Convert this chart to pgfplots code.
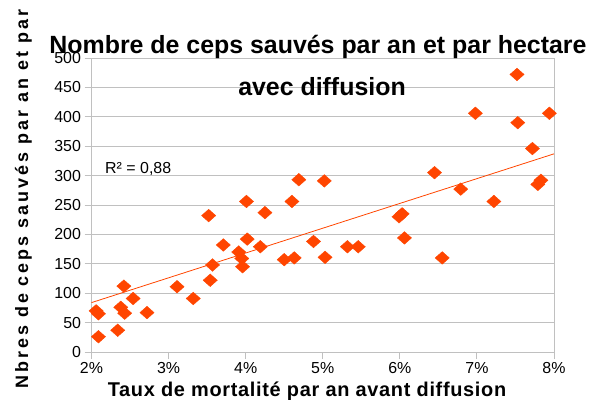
\documentclass[border=0pt]{standalone}
\usepackage{fontspec}
\setmainfont{Liberation Sans}
\newfontfamily\ylfont[LetterSpace=16.8]{Liberation Sans}
\newfontfamily\xlfont[LetterSpace=3.4]{Liberation Sans}
\usepackage{pgfplots}
\pgfplotsset{compat=1.18}
\definecolor{mk}{RGB}{255,69,0}
\definecolor{gr}{RGB}{192,192,192}
\pgfplotstableread{
x y
2.06 70
2.09 65
2.09 26
2.34 37
2.38 76
2.43 66
2.42 112
2.54 91
2.72 67
3.11 111
3.32 91
3.52 232
3.54 122
3.57 148
3.71 182
3.91 170
3.95 159
3.96 145
4.01 256
4.02 192
4.19 179
4.25 237
4.50 157
4.60 256
4.63 160
4.69 293
4.88 188
5.02 291
5.03 161
5.32 179
5.46 179
5.99 230
6.03 235
6.06 194
6.45 305
6.55 160
6.79 277
6.98 406
7.22 256
7.52 472
7.53 390
7.72 346
7.79 285
7.83 292
7.94 406
}\datatable
\begin{document}
\begin{tikzpicture}
\begin{axis}[at={(91.5bp,48bp)}, anchor=south west, scale only axis,
  width=462.5bp, height=294bp,
  xmin=2, xmax=8, ymin=0, ymax=500,
  xtick={2,3,...,8}, ytick={0,50,...,500},
  xticklabel={\pgfmathprintnumber{\tick}\%},
  /pgf/number format/assume math mode=true,
  ymajorgrids, grid style={gr, line width=0.9pt},
  axis line style={gr, line width=0.9pt},
  major tick style={gr, line width=0.9pt},
  tick align=outside, major tick length=7bp,
  xtick pos=bottom, ytick pos=left,
  ticklabel style={font=\fontsize{16}{18}\selectfont, black},
  clip=false]
\addplot[mk, line width=0.8pt] coordinates {(2,84) (8,337)};
\addplot[only marks, mark=diamond*, mark size=6.3bp, mark options={mk, draw=mk, fill=mk, xscale=1.5}] table[x=x,y=y] {\datatable};
\end{axis}
\node[font=\fontsize{25}{28}\selectfont\bfseries, anchor=base] at (318bp,346bp) {Nombre de ceps sauvés par an et par hectare};
\node[font=\fontsize{25}{28}\selectfont\bfseries, anchor=base] at (322bp,304bp) {avec diffusion};
\node[font=\fontsize{16}{18}\selectfont, anchor=base west, inner sep=0pt] at (105bp,226bp) {R² = 0,88};
\node[font=\xlfont\fontsize{20}{22}\selectfont\bfseries, anchor=base, inner sep=0pt] at (307bp,4bp) {Taux de mortalité par an avant diffusion};
\node[font=\ylfont\fontsize{18}{20}\selectfont\bfseries, anchor=base west, rotate=90, inner sep=0pt] at (28bp,11bp) {Nbres de ceps sauvés par an et par hectare};
\pgfresetboundingbox
\useasboundingbox (0,0) rectangle (597bp,400bp);
\end{tikzpicture}
\end{document}
